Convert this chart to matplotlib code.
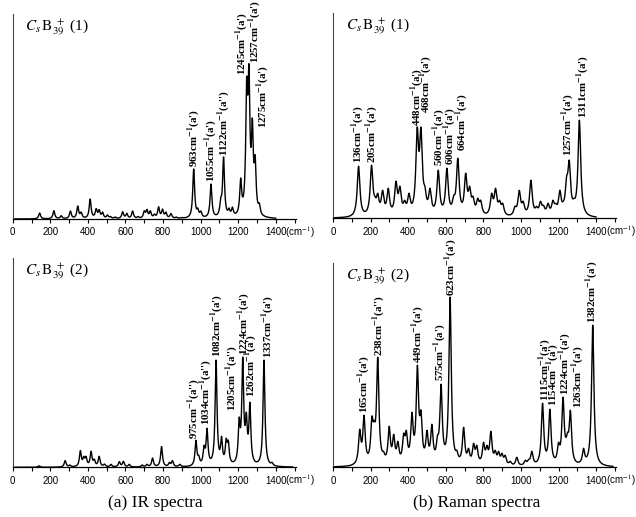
import numpy as np
import matplotlib
matplotlib.use("Agg")
import matplotlib.pyplot as plt
from matplotlib.ticker import MultipleLocator

plt.rcParams['mathtext.fontset'] = 'stix'
plt.rcParams['font.family'] = ['Liberation Serif', 'DejaVu Serif']

# ---- IR spectrum, Cs B39+ (1): peak position (cm-1), peak height (a.u.)
ir1_pos = [143, 219, 258, 307, 346, 364, 412, 444, 460, 478, 504, 520, 545,
           585, 607, 638, 667, 700, 714, 732, 754, 776, 797, 815, 842, 870,
           900, 963, 985, 1001, 1055, 1107, 1122, 1151, 1169, 1213, 1245,
           1257, 1275, 1290, 1312]
ir1_int = [6, 8.3, 3.3, 8, 13, 7, 20, 10.5, 9.5, 7, 4, 2.5, 2,
           7.3, 5.7, 8, 2.5, 8.3, 9.7, 8.3, 5, 12.3, 10, 7, 5.5, 2,
           1.5, 50, 11, 8, 35, 22, 62, 11, 12, 41, 142,
           155, 101, 64, 16]
ir1_lab = [963, 1055, 1122, 1245, 1257, 1275]
ir1_sym = ["a'", "a'", "a''", "a'", "a'", "a'"]

# ---- Raman spectrum, Cs B39+ (1)
ra1_pos = [136, 205, 223, 238, 264, 294, 335, 356, 381, 404, 448, 468, 489,
           516, 560, 606, 642, 664, 706, 727, 745, 770, 786, 844, 865, 886,
           903, 968, 991, 1012, 1053, 1083, 1104, 1120, 1144, 1170, 1185,
           1207, 1225, 1243, 1257, 1282, 1311]
ra1_int = [52, 53, 22, 25, 28, 30, 37, 32, 18, 25, 91, 91, 32,
           30, 48, 50, 23, 60, 45, 32, 22, 20, 18, 25, 30, 18,
           15, 12, 28, 17, 38, 12, 17, 13, 15, 18, 15,
           28, 17, 42, 58, 20, 98]
ra1_lab = [136, 205, 448, 468, 560, 606, 664, 1257, 1311]
ra1_sym = ["a'"] * 9

# ---- IR spectrum, Cs B39+ (2)
ir2_pos = [140, 279, 304, 360, 378, 390, 417, 434, 460, 488, 523, 567, 589,
           620, 689, 714, 744, 792, 834, 850, 889, 975, 990, 1018, 1034,
           1082, 1111, 1136, 1147, 1205, 1224, 1243, 1262, 1337, 1380]
ir2_int = [1.5, 6.7, 2.3, 16.7, 11, 11, 16, 8.3, 11, 3.3, 3, 5.7, 6,
           3, 2.3, 3, 9.3, 20.7, 5, 6.7, 3, 27, 12, 22, 39,
           107, 31, 29, 27, 50, 110, 55, 65, 107, 5]
ir2_lab = [975, 1034, 1082, 1205, 1224, 1262, 1337]
ir2_sym = ["a''", "a''", "a'", "a''", "a'", "a'", "a'"]

# ---- Raman spectrum, Cs B39+ (2)
ra2_pos = [142, 165, 207, 219, 238, 269, 299, 323, 345, 376, 390, 420, 449,
           468, 500, 526, 556, 575, 623, 659, 695, 721, 748, 765, 801, 819,
           840, 863, 881, 899, 916, 943, 978, 1023, 1041, 1058, 1094, 1115,
           1154, 1200, 1224, 1240, 1248, 1263, 1333, 1382]
ra2_int = [38, 52, 51, 47, 110, 16, 41, 33, 26, 34, 37, 55, 102,
           57, 37, 43, 32, 83, 170, 17, 40, 19, 24, 22, 25, 22,
           36, 17, 16, 14, 12, 6, 10, 7, 8, 16, 6, 64,
           58, 25, 70, 30, 35, 57, 19, 142]
ra2_lab = [165, 238, 449, 575, 623, 1115, 1154, 1224, 1263, 1382]
ra2_sym = ["a'", "a''", "a'", "a'", "a'", "a'", "a'", "a'", "a'", "a'"]


def spectrum(x, pos, height, fwhm):
    # Lorentzian broadening, amplitudes fitted so the curve meets each peak height
    pos = np.asarray(pos, float)
    height = np.asarray(height, float)
    g = fwhm / 2.0
    A = 1.0 / (1.0 + ((pos[:, None] - pos[None, :]) / g) ** 2)
    step = 1.0 / A.sum(axis=1).max()
    amp = height.copy()
    for _ in range(5000):
        amp = np.clip(amp + step * (height - A @ amp), 0, None)
    return (1.0 / (1.0 + ((x[:, None] - pos[None, :]) / g) ** 2)) @ amp


def draw_panel(ax, pos, inten, labels, syms, lab_x, lab_y, fwhm, ytop, name, xend):
    x = np.arange(0, xend, 0.5)
    ax.plot(x, spectrum(x, pos, inten, fwhm), color='black', lw=1.0)
    ax.set_xlim(0, 1505)
    ax.set_ylim(0, ytop)
    for s in ['top', 'right']:
        ax.spines[s].set_visible(False)
    ax.spines['left'].set_color('#444444')
    ax.spines['bottom'].set_linewidth(0.9)
    ax.set_yticks([])
    ax.xaxis.set_minor_locator(MultipleLocator(100))
    ax.set_xticks([0, 200, 400, 600, 800, 1000, 1200, 1400])
    ax.tick_params(axis='x', which='both', direction='out', length=3, width=0.8,
                   labelsize=7, pad=3, labelfontfamily='Liberation Sans')
    ax.annotate(r"(cm$^{-1}$)", xy=(1450, 0), xycoords=ax.get_xaxis_transform(),
                xytext=(0, -9.5), textcoords='offset points', ha='left', va='center',
                fontsize=7, family='Liberation Sans', annotation_clip=False)
    ax.text(0.045, 0.985, r"$C_s\,\mathrm{B}_{39}^{\ +}$ " + name, transform=ax.transAxes,
            va='top', ha='left', fontsize=11)
    for lab, sym, lx, ly in zip(labels, syms, lab_x, lab_y):
        ax.text(lx, ly, f"{lab}cm" + r"$^{\mathbf{-1}}$" + f"({sym})", rotation=90,
                ha='center', va='bottom', fontsize=7.8, fontweight='bold', clip_on=False)


fig = plt.figure(figsize=(6.36, 5.17), dpi=100)
ax1 = fig.add_axes([0.020, 0.5764, 0.4447, 0.3965])
ax2 = fig.add_axes([0.5236, 0.5778, 0.4447, 0.397])
ax3 = fig.add_axes([0.020, 0.0961, 0.4447, 0.405])
ax4 = fig.add_axes([0.5236, 0.0961, 0.4447, 0.395])

draw_panel(ax1, ir1_pos, ir1_int, ir1_lab, ir1_sym,
           [962, 1054, 1121, 1216, 1287, 1328], [52, 37, 63, 144, 156, 91],
           12, 205, "(1)", 1400)
draw_panel(ax2, ra1_pos, ra1_int, ra1_lab, ra1_sym,
           [131, 207, 445, 495, 562, 619, 684, 1248, 1328],
           [55, 55, 92, 105, 52, 53, 67, 62, 100],
           17, 205, "(1)", 1400)
draw_panel(ax3, ir2_pos, ir2_int, ir2_lab, ir2_sym,
           [965, 1027, 1087, 1165, 1229, 1269, 1358],
           [28.5, 42, 110, 56, 112, 70, 109],
           12, 209, "(2)", 1490)
draw_panel(ax4, ra2_pos, ra2_int, ra2_lab, ra2_sym,
           [163, 243, 450, 567, 624, 1126, 1170, 1235, 1303, 1377],
           [54, 111, 104, 86, 171, 66, 61, 72, 59, 144],
           15, 204, "(2)", 1490)

fig.text(155 / 636, 1 - 503 / 517, "(a) IR spectra", ha='center', va='center', fontsize=12.5)
fig.text(477 / 636, 1 - 503 / 517, "(b) Raman spectra", ha='center', va='center', fontsize=12.5)

fig.savefig("out.png", dpi=100)
